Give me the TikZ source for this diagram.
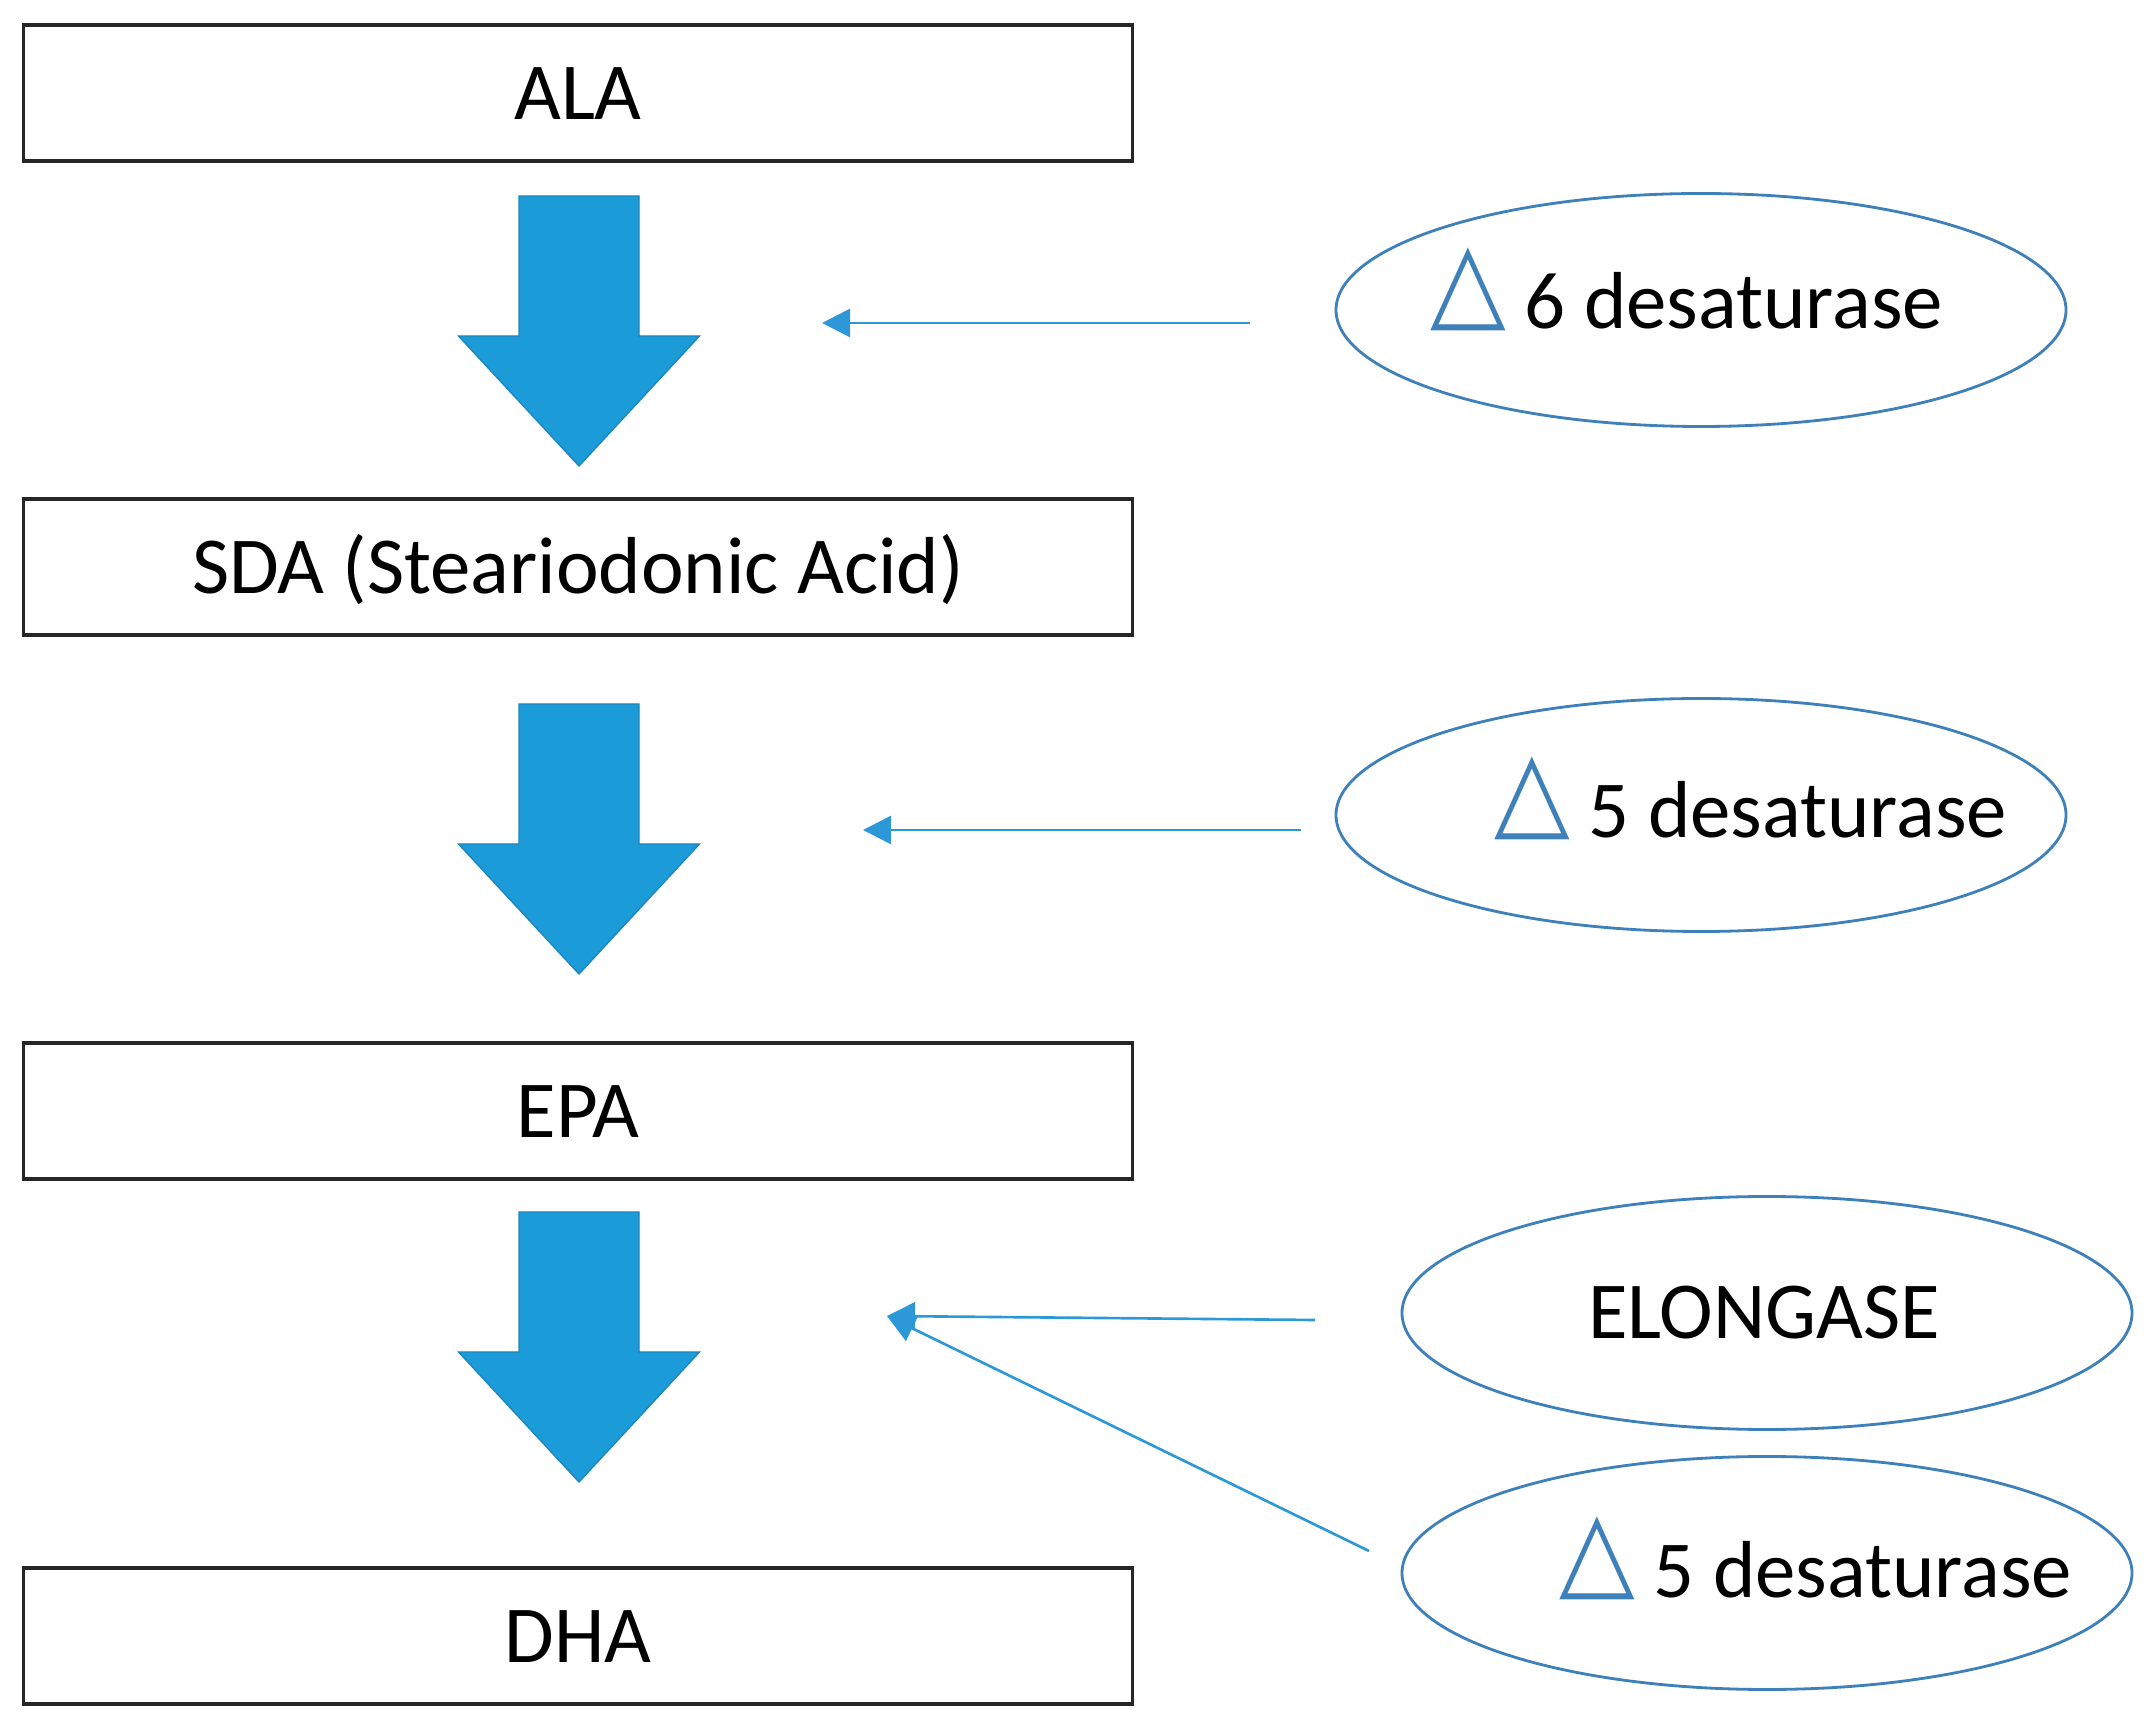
\documentclass[tikz,border=0pt]{standalone}
\usepackage{fontspec}
\setmainfont{Carlito}
\newfontfamily\symfont{DejaVu Sans}
\usepackage{tikz}
\usetikzlibrary{positioning,arrows.meta,shapes.geometric}

\definecolor{arrowblue}{RGB}{27,155,215}
\definecolor{arrowedge}{RGB}{30,135,190}
\definecolor{enzblue}{RGB}{62,128,185}
\definecolor{linkblue}{RGB}{45,152,215}
\newcommand{\deltasym}{\raisebox{0.11cm}{\scalebox{1}[1.1]{\fontsize{28}{28}\symfont\color{enzblue}△}}}

\begin{document}
\begin{tikzpicture}[
  acidbox/.style={draw=black!85, line width=0.9pt, minimum width=11.09cm, minimum height=1.36cm,
    inner sep=0pt, font=\fontsize{23}{26}\selectfont, text height=0.53cm, text depth=0pt},
  enzyme/.style={ellipse, draw=enzblue, line width=0.8pt, minimum width=7.30cm, minimum height=2.33cm, inner sep=0pt},
  enzlbl/.style={anchor=base, inner sep=0pt, font=\fontsize{23}{26}\selectfont},
  blockarr/.style={fill=arrowblue, draw=arrowedge, line width=0.4pt, line join=miter},
  link/.style={draw=linkblue, line width=0.75pt, -{Triangle[length=2.8mm, width=2.8mm]}}
]

\useasboundingbox (0,0) rectangle (21.47,-17.30);

% fatty acids
\node[acidbox] (ala) at (5.78, -0.93) {ALA};
\node[acidbox] (sda) at (5.78, -5.67) {SDA (Steariodonic Acid)};
\node[acidbox] (epa) at (5.78, -11.11) {EPA};
\node[acidbox] (dha) at (5.78, -16.36) {DHA};

% conversion steps
\fill[blockarr, shift={(5.79,-1.96)}] (-0.60,0) -- (0.60,0) -- (0.60,-1.40) -- (1.205,-1.40) -- (0,-2.70) -- (-1.205,-1.40) -- (-0.60,-1.40) -- cycle;
\fill[blockarr, shift={(5.79,-7.04)}] (-0.60,0) -- (0.60,0) -- (0.60,-1.40) -- (1.205,-1.40) -- (0,-2.70) -- (-1.205,-1.40) -- (-0.60,-1.40) -- cycle;
\fill[blockarr, shift={(5.79,-12.12)}] (-0.60,0) -- (0.60,0) -- (0.60,-1.40) -- (1.205,-1.40) -- (0,-2.70) -- (-1.205,-1.40) -- (-0.60,-1.40) -- cycle;

% enzymes
\node[enzyme] (e6d) at (17.01, -3.10) {};
\node[enzyme] (e5d) at (17.01, -8.15) {};
\node[enzyme] (elo) at (17.67, -13.13) {};
\node[enzyme] (e5b) at (17.67, -15.73) {};
\node[enzlbl] (l6d) at (16.87, -3.29) {\deltasym\ 6 desaturase};
\node[enzlbl] (l5d) at (17.51, -8.38) {\deltasym\ 5 desaturase};
\node[enzlbl] (llo) at (17.64, -13.39) {ELONGASE};
\node[enzlbl] (l5b) at (18.16, -15.97) {\deltasym\ 5 desaturase};

% pointers
\coordinate (s1) at (12.50, -3.23);
\coordinate (p1) at (8.22, -3.23);
\coordinate (s2) at (13.01, -8.30);
\coordinate (p2) at (8.63, -8.30);
\coordinate (s3) at (13.15, -13.20);
\coordinate (s4) at (13.69, -15.51);
\coordinate (p3) at (8.87, -13.16);
\draw[link] (s1) -- (p1);
\draw[link] (s2) -- (p2);
\draw[link] (s3) -- (p3);
\draw[link] (s4) -- (p3);

\end{tikzpicture}
\end{document}
